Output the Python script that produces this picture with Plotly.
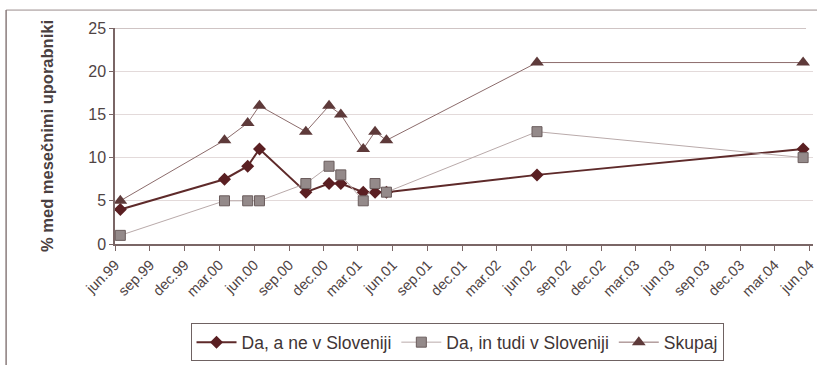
import pandas as pd
import plotly.graph_objects as go

# Survey dates (mid-month) and shares of monthly users, %
dates = ["1999-06-15", "2000-03-15", "2000-05-15", "2000-06-15", "2000-10-15",
         "2000-12-15", "2001-01-15", "2001-03-15", "2001-04-15", "2001-05-15",
         "2002-06-15", "2004-05-15"]
da_ne_slo = [4, 7.5, 9, 11, 6, 7, 7, 6, 6, 6, 8, 11]
da_tudi_slo = [1, 5, 5, 5, 7, 9, 8, 5, 7, 6, 13, 10]
skupaj = [5, 12, 14, 16, 13, 16, 15, 11, 13, 12, 21, 21]

tick_labels = ["jun.99", "sep.99", "dec.99", "mar.00", "jun.00", "sep.00", "dec.00",
               "mar.01", "jun.01", "sep.01", "dec.01", "mar.02", "jun.02", "sep.02",
               "dec.02", "mar.03", "jun.03", "sep.03", "dec.03", "mar.04", "jun.04"]
tick_dates = [d.strftime("%Y-%m-%d")
              for d in pd.date_range("1999-06-01", periods=len(tick_labels), freq="3MS")]

txt = "#4f4444"
fig = go.Figure()
fig.add_trace(go.Scatter(
    x=dates, y=da_ne_slo, name="Da, a ne v Sloveniji", mode="lines+markers",
    line=dict(color="#5e2a2a", width=2),
    marker=dict(symbol="diamond", size=10, color="#5a1f22")))
fig.add_trace(go.Scatter(
    x=dates, y=da_tudi_slo, name="Da, in tudi v Sloveniji", mode="lines+markers",
    line=dict(color="#b9aaaa", width=1),
    marker=dict(symbol="square", size=10, color="#948a8a",
                line=dict(color="#6a5c5c", width=1))))
fig.add_trace(go.Scatter(
    x=dates, y=skupaj, name="Skupaj", mode="lines+markers",
    line=dict(color="#8c6c6c", width=1),
    marker=dict(symbol="triangle-up", size=12, color="#5e3a3a")))

# outer frame lines and the top gridline
fig.add_shape(type="line", xref="paper", yref="paper", x0=-0.156, x1=1.01, y0=1.083, y1=1.083,
              line=dict(color="#9a8c8c", width=1))
fig.add_shape(type="line", xref="paper", yref="paper", x0=-0.156, x1=-0.156, y0=1.083, y1=-0.6,
              line=dict(color="#8a7c7c", width=1.5))
fig.add_shape(type="line", xref="paper", yref="y", x0=0, x1=0.99, y0=25, y1=25,
              line=dict(color="#a08a8a", width=1))

fig.update_layout(
    width=817, height=365,
    margin=dict(l=115, r=0, t=28, b=121),
    paper_bgcolor="white", plot_bgcolor="white",
    font=dict(family="Liberation Sans, Arial, sans-serif", size=14, color=txt),
    showlegend=True,
    legend=dict(orientation="h", x=0.49, xanchor="center", y=-0.455, yanchor="middle",
                bordercolor="#6f6262", borderwidth=1, font=dict(size=17.5, color="#3f3535"),
                itemwidth=40, tracegroupgap=0),
    xaxis=dict(type="date", range=["1999-06-01", "2004-06-10"],
               tickvals=tick_dates, ticktext=tick_labels, tickangle=-45,
               ticklabeloverflow="allow",
               ticks="outside", ticklen=5, tickcolor="#7a6666",
               showline=True, linecolor="#7a6666", linewidth=1.5,
               showgrid=False, zeroline=False, tickfont=dict(size=14.5)),
    yaxis=dict(range=[0, 25], dtick=5, ticks="outside", ticklen=4, tickcolor="#7a6666",
               showline=True, linecolor="#7a6666", linewidth=1.5,
               showgrid=True, gridcolor="#e3dada", gridwidth=1, zeroline=False,
               tickfont=dict(size=16),
               title=dict(text="<b>% med mesečnimi uporabniki</b>", standoff=30,
                          font=dict(size=16.5, color="#4a4040"))),
)

fig.write_html("out.html")
